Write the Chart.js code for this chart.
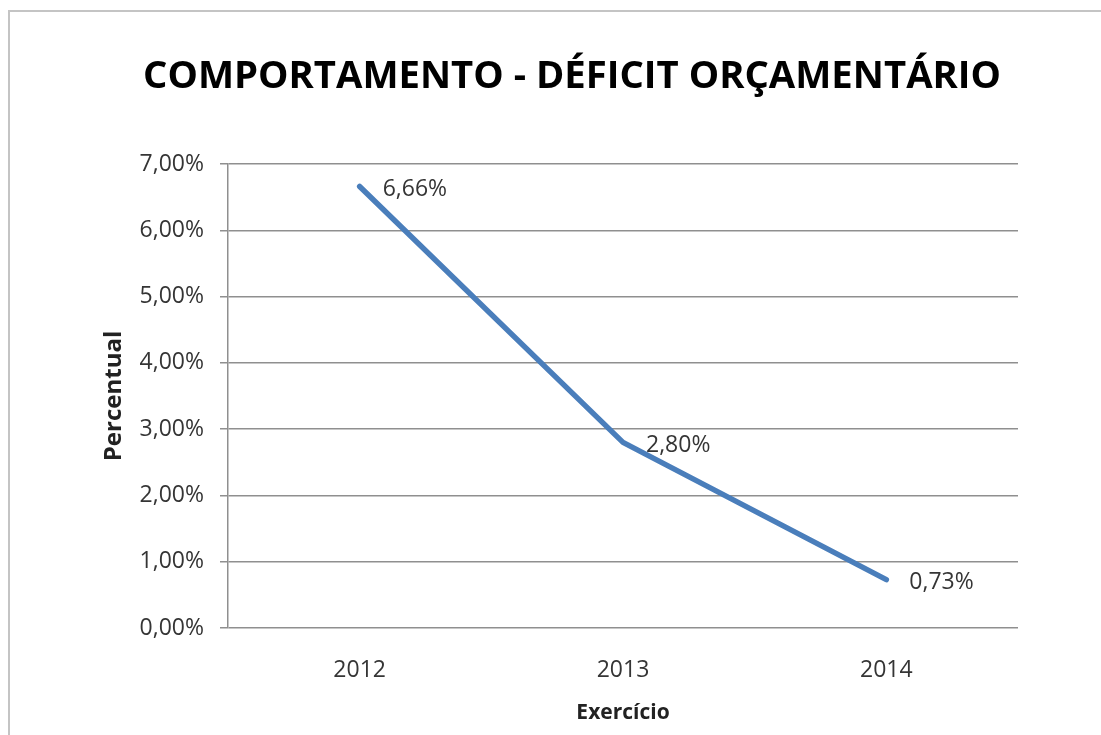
<!DOCTYPE html>
<html>
<head>
<meta charset="utf-8">
<script src="https://cdn.jsdelivr.net/npm/chart.js@4/dist/chart.umd.min.js"></script>
<style>
	html, body { margin: 0; padding: 0; background: #fff; overflow: hidden; }
	#wrap { position: relative; width: 1101px; height: 735px; overflow: hidden; }
	#frame { position: absolute; left: 8px; top: 10px; width: 1200px; height: 800px;
		border-left: 2px solid #c4c4c4; border-top: 2px solid #c4c4c4; pointer-events: none; }
	canvas { position: absolute; left: 0; top: 0; }
</style>
</head>
<body>
<div id="wrap">
	<canvas id="chart" width="1144" height="735"></canvas>
	<div id="frame"></div>
</div>
<script>
const years = ['2012', '2013', '2014'];
const deficit = [6.66, 2.80, 0.73];
const pointLabels = ['6,66%', '2,80%', '0,73%'];

const fmt = v => v.toFixed(2).replace('.', ',') + '%';
const textColor = '#353535';

// simple label next to each point, to the right
const pointLabelPlugin = {
	id: 'pointLabels',
	afterDatasetsDraw (chart)
	{
		const ctx = chart.ctx;
		const meta = chart.getDatasetMeta(0);
		ctx.save();
		ctx.font = '23px "Open Sans"';
		ctx.fillStyle = textColor;
		ctx.textAlign = 'left';
		ctx.textBaseline = 'middle';
		meta.data.forEach((pt, i) => {
			ctx.fillText(pointLabels[i], pt.x + 23, pt.y + 3);
		});
		ctx.restore();
	}
};

const ctx = document.getElementById('chart').getContext('2d');
const myChart = new Chart(ctx, {
	type: 'line',
	data: {
		labels: years,
		datasets: [
			{
				label: 'Déficit',
				data: deficit,
				borderColor: 'rgb(74,126,187)',
				borderWidth: 5.5,
				borderCapStyle: 'round',
				borderJoinStyle: 'round',
				tension: 0,
				pointRadius: 0,
				fill: false
			}
		]
	},
	options: {
		responsive: false,
		animation: false,
		layout: { padding: 0 },
		plugins: {
			legend: { display: false },
			tooltip: { enabled: false },
			title: {
				display: true,
				text: 'COMPORTAMENTO - DÉFICIT ORÇAMENTÁRIO',
				color: '#000',
				font: { family: 'Open Sans', size: 38.3, weight: 'bold', lineHeight: 1.2 },
				padding: { top: 54, bottom: 64 }
			}
		},
		scales: {
			x: {
				offset: true,
				grid: { display: false },
				border: { display: false },
				ticks: { color: textColor, padding: 21, font: { family: 'Open Sans', size: 23 } },
				title: {
					display: true,
					text: 'Exercício',
					color: '#222',
					font: { family: 'Open Sans', size: 21, weight: 'bold' },
					padding: { top: 0, bottom: 9 }
				},
				afterFit: scale => { scale.height = 107; }
			},
			y: {
				min: 0,
				max: 7,
				ticks: {
					stepSize: 1,
					color: textColor,
					padding: 16,
					font: { family: 'Open Sans', size: 23 },
					callback: v => fmt(v)
				},
				grid: { color: '#8f8f8f', lineWidth: 1.5, tickLength: 8, tickColor: '#8f8f8f' },
				border: { display: true, color: '#8f8f8f', width: 1.5 },
				title: {
					display: true,
					text: 'Percentual',
					color: '#222',
					font: { family: 'Open Sans', size: 24, weight: 'bold' },
					padding: { top: 100, bottom: 0 }
				},
				afterFit: scale => { scale.width = 228; }
			},
			// empty right side so the plot ends where the original does
			yRight: {
				position: 'right',
				display: true,
				grid: { display: false },
				border: { display: false },
				ticks: { display: false },
				afterFit: scale => { scale.width = 126; }
			}
		}
	},
	plugins: [pointLabelPlugin]
});
</script>
</body>
</html>
